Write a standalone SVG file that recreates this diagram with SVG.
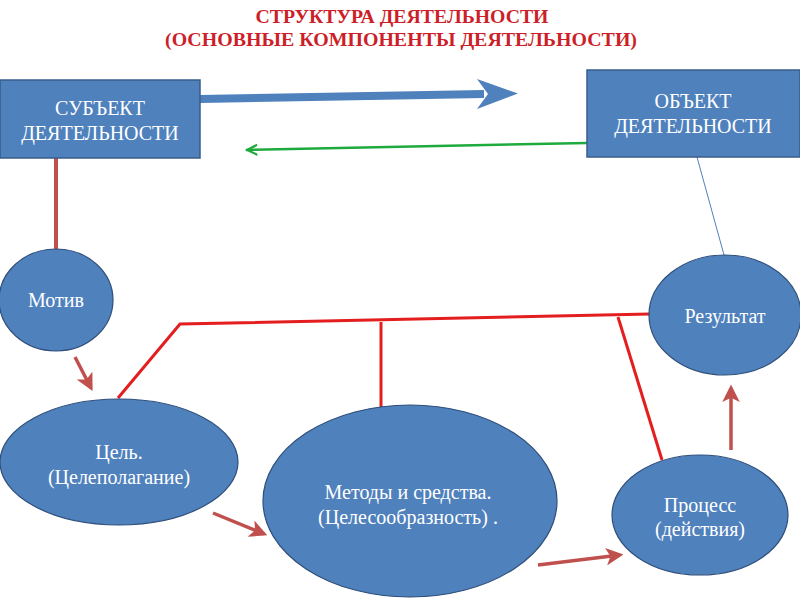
<svg xmlns="http://www.w3.org/2000/svg" width="800" height="600" viewBox="0 0 800 600">
<defs>
<style>
.box{fill:#4f81bd;stroke:#385d8a;stroke-width:1.5}
.ell{fill:#4f81bd;stroke:#2f4f7a;stroke-width:1.2}
.lbl{font-size:20px;fill:#ffffff;text-anchor:middle}
.title{font-size:19px;font-weight:bold;fill:#cc1f2a;text-anchor:middle}
.red{stroke:#e41e1e;stroke-width:3;fill:none}
.brown{stroke:#c0504d;stroke-width:3.5;fill:none}
</style>
<marker id="ah" viewBox="0 0 10 10" refX="8" refY="5" markerWidth="5" markerHeight="5" orient="auto" markerUnits="strokeWidth">
<path d="M0,0 L10,5 L0,10 L2.5,5 Z" fill="#c0504d"/>
</marker>
<marker id="ahg" viewBox="0 0 10 10" refX="1" refY="5" markerWidth="5.5" markerHeight="5" orient="auto" markerUnits="strokeWidth">
<path d="M10,0 L0,5 L10,10 L10,8 L4,5 L10,2 Z" fill="#1eaa3c"/>
</marker>
</defs>
<rect width="800" height="600" fill="#ffffff"/>
<g font-family="'Liberation Serif', 'DejaVu Serif', serif">
<g id="title">
<text class="title" x="402" y="23" textLength="293" lengthAdjust="spacingAndGlyphs">СТРУКТУРА ДЕЯТЕЛЬНОСТИ</text>
<text class="title" x="401" y="46" textLength="472" lengthAdjust="spacingAndGlyphs">(ОСНОВНЫЕ КОМПОНЕНТЫ ДЕЯТЕЛЬНОСТИ)</text>
</g>
<g id="connectors">
<path d="M200,99 L484,94" stroke="#4f81bd" stroke-width="8" fill="none"/>
<path d="M477,79 L518,93.5 L477,109 L488,94 Z" fill="#4f81bd"/>
<path d="M246,150 L587,143" stroke="#1eaa3c" stroke-width="2.5" fill="none" marker-start="url(#ahg)"/>
<path d="M56,158 L56,250" stroke="#c0504d" stroke-width="4" fill="none"/>
<path d="M697,157 L724,255" stroke="#4f81bd" stroke-width="1" fill="none"/>
<path class="red" d="M118,398 L180,324 L650,314"/>
<path class="red" d="M381,322 L381,407"/>
<path class="red" d="M618,317 L662,460"/>
<path class="brown" d="M75,357 L91,388" marker-end="url(#ah)"/>
<path class="brown" d="M213,513 L264,534" marker-end="url(#ah)"/>
<path class="brown" d="M538,565 L620,555" marker-end="url(#ah)"/>
<path class="brown" d="M731,450 L731,388" marker-end="url(#ah)"/>
</g>
<g id="subject">
<rect class="box" x="0" y="80" width="200" height="78"/>
<text class="lbl" x="100" y="115">СУБЪЕКТ</text>
<text class="lbl" x="100" y="140">ДЕЯТЕЛЬНОСТИ</text>
</g>
<g id="object">
<rect class="box" x="587" y="70" width="213" height="87"/>
<text class="lbl" x="693" y="108">ОБЪЕКТ</text>
<text class="lbl" x="693" y="133">ДЕЯТЕЛЬНОСТИ</text>
</g>
<g id="motiv">
<ellipse class="ell" cx="56" cy="300" rx="57" ry="51"/>
<text class="lbl" x="56" y="307">Мотив</text>
</g>
<g id="goal">
<ellipse class="ell" cx="119" cy="462" rx="119" ry="63"/>
<text class="lbl" x="119" y="459">Цель.</text>
<text class="lbl" x="119" y="484">(Целеполагание)</text>
</g>
<g id="methods">
<ellipse class="ell" cx="410" cy="501" rx="147" ry="96"/>
<text class="lbl" x="408" y="499">Методы и средства.</text>
<text class="lbl" x="408" y="524">(Целесообразность) .</text>
</g>
<g id="process">
<ellipse class="ell" cx="700" cy="515" rx="88" ry="60"/>
<text class="lbl" x="700" y="512">Процесс</text>
<text class="lbl" x="700" y="536">(действия)</text>
</g>
<g id="result">
<ellipse class="ell" cx="725" cy="315" rx="76" ry="60"/>
<text class="lbl" x="725" y="323">Результат</text>
</g>
</g>
</svg>
